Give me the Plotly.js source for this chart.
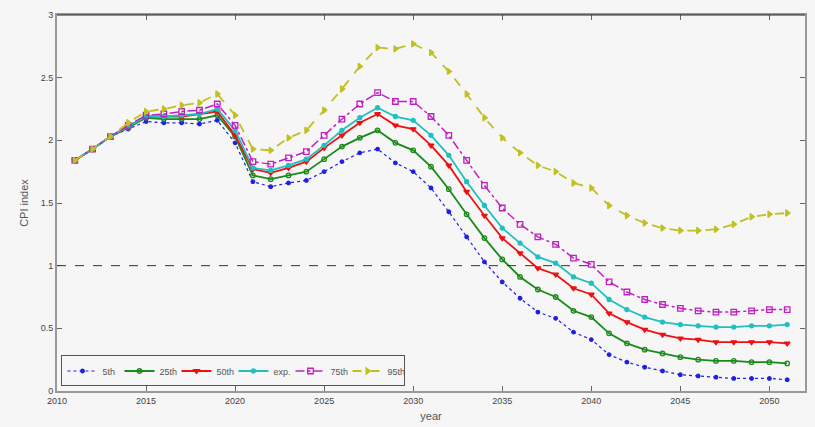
<!DOCTYPE html>
<html>
<head>
<meta charset="utf-8">
<script src="https://cdn.plot.ly/plotly-3.0.1.min.js"></script>
<style>html,body{margin:0;padding:0;background:#f6f6f6;}#chart{width:815px;height:427px;}</style>
</head>
<body>
<div id="chart"></div>
<script>
var years = [];
for (var y = 2011; y <= 2051; y++) years.push(y);

var p5 = [1.84,1.93,2.03,2.09,2.15,2.14,2.14,2.13,2.16,1.98,
          1.67,1.63,1.66,1.68,1.75,1.83,1.90,1.93,1.82,1.75,
          1.62,1.43,1.23,1.03,0.87,0.74,0.63,0.58,0.47,0.41,
          0.29,0.23,0.19,0.16,0.13,0.12,0.11,0.10,0.10,0.10,0.09];
var p25 = [1.84,1.93,2.03,2.10,2.18,2.17,2.17,2.17,2.20,2.03,
           1.72,1.69,1.72,1.75,1.85,1.95,2.02,2.08,1.98,1.92,
           1.79,1.61,1.41,1.22,1.05,0.91,0.81,0.75,0.64,0.59,
           0.46,0.38,0.33,0.30,0.27,0.25,0.24,0.24,0.23,0.23,0.22];
var p50 = [1.84,1.93,2.03,2.11,2.19,2.19,2.19,2.21,2.23,2.04,
           1.77,1.74,1.78,1.83,1.94,2.04,2.14,2.21,2.12,2.09,
           1.96,1.80,1.59,1.40,1.22,1.10,0.98,0.93,0.82,0.77,
           0.62,0.55,0.49,0.45,0.42,0.41,0.39,0.39,0.39,0.39,0.38];
var pexp = [1.84,1.93,2.03,2.11,2.19,2.19,2.20,2.21,2.25,2.08,
            1.78,1.76,1.80,1.85,1.96,2.08,2.18,2.26,2.19,2.16,
            2.04,1.88,1.67,1.48,1.30,1.18,1.07,1.02,0.91,0.86,
            0.73,0.65,0.59,0.55,0.53,0.52,0.51,0.51,0.52,0.52,0.53];
var p75 = [1.84,1.93,2.03,2.12,2.20,2.21,2.23,2.24,2.29,2.12,
           1.83,1.81,1.86,1.91,2.04,2.17,2.29,2.38,2.31,2.31,
           2.19,2.04,1.84,1.64,1.46,1.33,1.23,1.17,1.06,1.01,
           0.87,0.79,0.73,0.69,0.66,0.64,0.63,0.63,0.64,0.65,0.65];
var p95 = [1.84,1.93,2.03,2.14,2.23,2.25,2.28,2.30,2.37,2.20,
           1.93,1.92,2.02,2.08,2.24,2.41,2.59,2.74,2.73,2.77,
           2.70,2.55,2.37,2.18,2.02,1.90,1.80,1.75,1.66,1.62,
           1.48,1.40,1.34,1.30,1.28,1.28,1.29,1.33,1.39,1.41,1.42];

var names = ['5th','25th','50th','exp.','75th','95th'];
var series = [p5,p25,p50,pexp,p75,p95];
var colors = ['#2020e0','#1a8a1a','#ee1111','#20c0c0','#c020c0','#c0c020'];
var dashes = ['dot','solid','solid','solid','dashdot','dash'];
var symbols = ['circle','circle-open','triangle-down','circle','square-open','triangle-right'];
var sizes = [3.5,4.5,5,4,5.5,5.5];
var widths = [1.2,1.8,1.8,1.8,1.5,1.8];

var traces = series.map(function(s,i){
  return {
    x: years, y: s, name: names[i], type: 'scatter', mode: 'lines+markers',
    line: {color: colors[i], dash: dashes[i], width: widths[i]},
    marker: {color: colors[i], symbol: symbols[i], size: sizes[i], line: {color: colors[i], width: 1.3}}
  };
});

var layout = {
  width: 815, height: 427,
  margin: {l: 57, r: 10, t: 15, b: 36},
  paper_bgcolor: '#f6f6f6', plot_bgcolor: '#f6f6f6',
  font: {family: 'Liberation Sans, Arial, sans-serif', size: 9, color: '#444'},
  showlegend: true,
  legend: {orientation: 'h', x: 0.006, y: 0.012, xanchor: 'left', yanchor: 'bottom',
           bgcolor: '#f6f6f6', bordercolor: '#555', borderwidth: 1,
           font: {size: 9, color: '#555'}, itemwidth: 30, tracegroupgap: 0,
           entrywidth: 12, entrywidthmode: 'pixels'},
  xaxis: {range: [2010, 2052], tickvals: [2010,2015,2020,2025,2030,2035,2040,2045,2050],
          ticks: 'inside', ticklen: 5, tickcolor: '#666', showgrid: false, zeroline: false,
          showline: true, linecolor: '#999', linewidth: 2, mirror: 'ticks',
          title: {text: 'year', font: {size: 11, color: '#555'}, standoff: 8}},
  yaxis: {range: [0, 3], tickvals: [0,0.5,1,1.5,2,2.5,3], ticktext: ['0','0.5','1','1.5','2','2.5','3'],
          ticks: 'inside', ticklen: 5, tickcolor: '#666', showgrid: false, zeroline: false,
          showline: true, linecolor: '#999', linewidth: 2, mirror: 'ticks',
          title: {text: 'CPI index', font: {size: 11, color: '#555'}, standoff: 10}},
  shapes: [{type: 'line', xref: 'paper', yref: 'y', x0: 0, x1: 1, y0: 1, y1: 1,
            line: {color: '#333', width: 1, dash: 'dash'}},
           {type: 'line', xref: 'paper', yref: 'paper', x0: 0, x1: 1, y0: 1, y1: 1,
            line: {color: '#222', width: 1}}]
};

Plotly.newPlot('chart', traces, layout, {displayModeBar: false, staticPlot: true});
</script>
</body>
</html>
